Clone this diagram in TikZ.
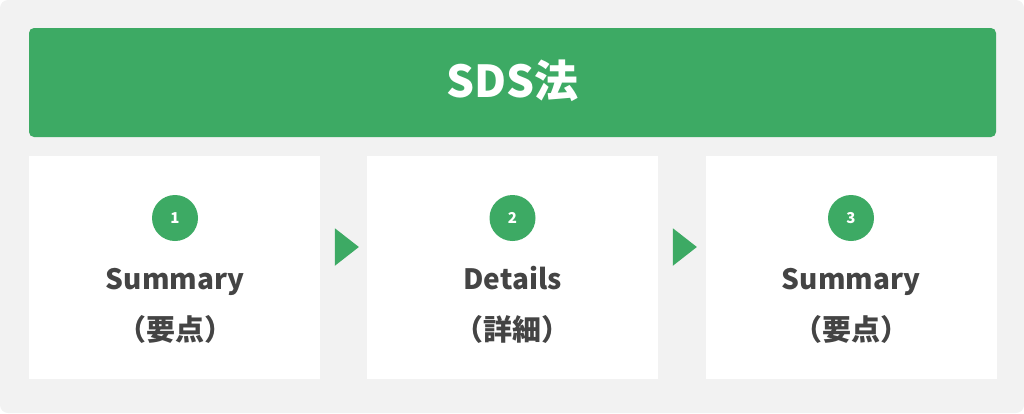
\documentclass[tikz,border=0pt]{standalone}
\usepackage{fontspec}
\setmainfont{Noto Sans CJK JP}
\usetikzlibrary{shapes.geometric}
\definecolor{sdsgreen}{HTML}{3DAA64}
\definecolor{sdsgray}{HTML}{F2F2F2}
\definecolor{sdstext}{HTML}{444444}
\tikzset{
	stepbox/.style = {fill = white, minimum width = 291, minimum height = 223, inner sep = 0},
	numdot/.style = {circle, fill = sdsgreen, minimum size = 46, inner sep = 0, text = white, font = \fontsize{15}{15}\selectfont\bfseries},
	label/.style = {text = sdstext, inner sep = 0},
	tri/.style = {isosceles triangle, isosceles triangle apex angle = 76, fill = sdsgreen, minimum height = 24, inner sep = 0}
}
\begin{document}
\begin{tikzpicture}[x = 1pt, y = -1pt]
	%	background
	\fill[sdsgray, rounded corners = 8] (0, 0) rectangle (1024, 413);
	\useasboundingbox (0, 0) rectangle (1024, 413);
	
	%	title
	\fill[sdsgreen, rounded corners = 5] (29, 28) rectangle (996, 137);
	\node[anchor = base, text = white, inner sep = 0, font = \fontsize{44}{44}\selectfont\bfseries] (title) at (512.5, 97) {SDS法};
	
	%	steps
	\node[stepbox] (b1) at (174.5, 267) {};
	\node[stepbox] (b2) at (512.5, 267) {};
	\node[stepbox] (b3) at (851, 267) {};
	
	\node[numdot] (n1) at (175, 218) {1};
	\node[numdot] (n2) at (512.5, 218) {2};
	\node[numdot] (n3) at (851, 218) {3};
	
	\node[label, anchor = base, font = \fontsize{28}{28}\selectfont\bfseries] (s1) at (175, 289) {Summary};
	\node[label, anchor = base, font = \fontsize{28}{28}\selectfont\bfseries] (s2) at (512.5, 289) {Details};
	\node[label, anchor = base, font = \fontsize{28}{28}\selectfont\bfseries] (s3) at (851, 289) {Summary};
	
	\node[label, font = \fontsize{29}{29}\selectfont\bfseries] (k1) at (175, 329) {（要点）};
	\node[label, font = \fontsize{29}{29}\selectfont\bfseries] (k2) at (512.5, 329) {（詳細）};
	\node[label, font = \fontsize{29}{29}\selectfont\bfseries] (k3) at (851, 329) {（要点）};
	
	%	arrows
	\node[tri] (t1) at (344, 247) {};
	\node[tri] (t2) at (682, 247) {};
\end{tikzpicture}
\end{document}
